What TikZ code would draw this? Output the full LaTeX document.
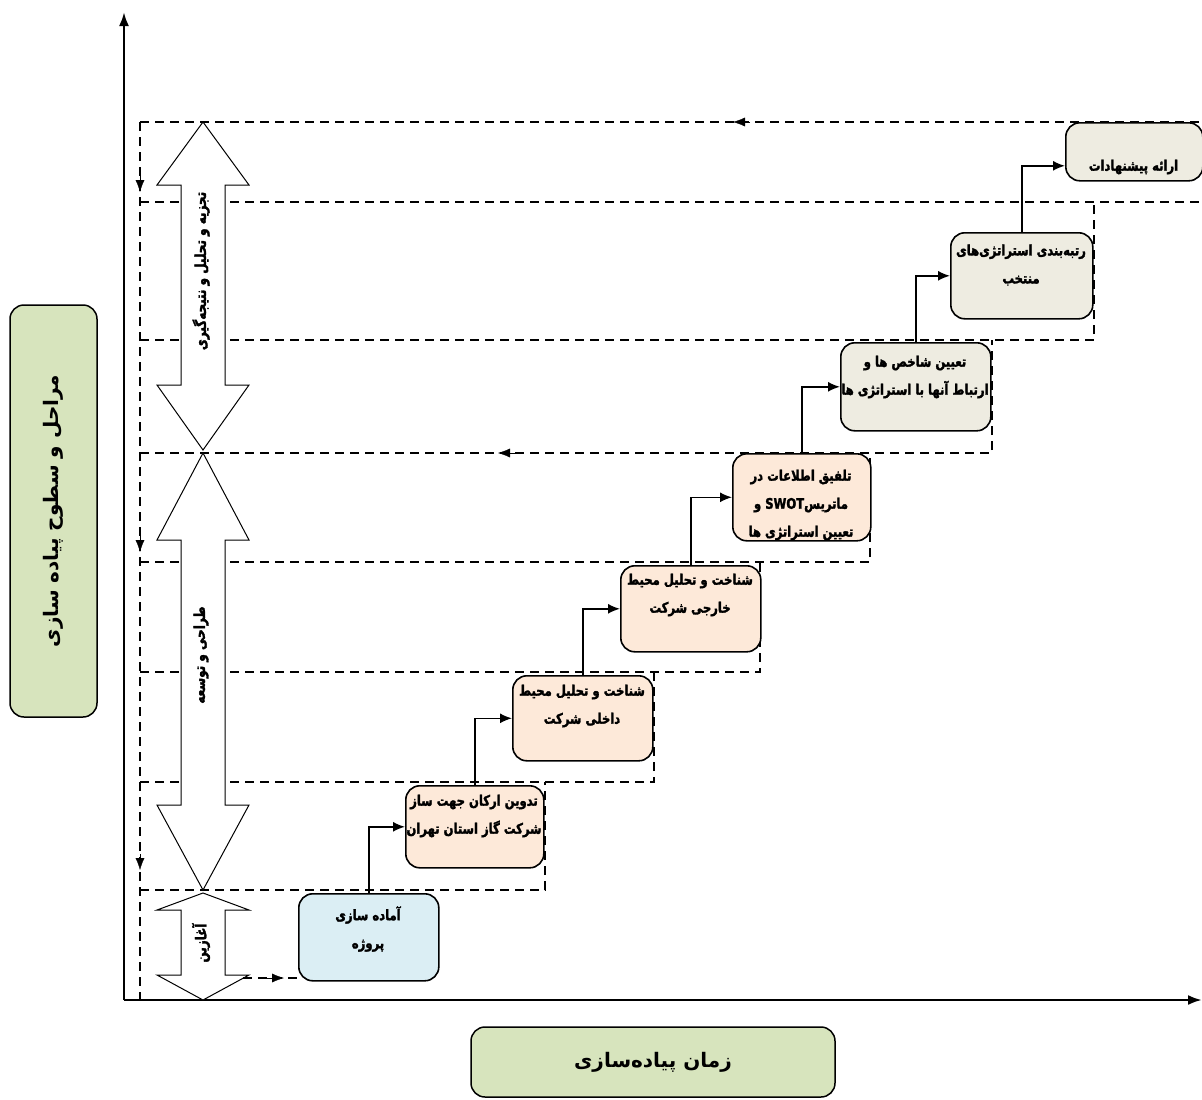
\documentclass[tikz,border=0pt]{standalone}
\usepackage{fontspec}
\usetikzlibrary{arrows.meta}
\newfontfamily\fa[Script=Arabic,FakeStretch=0.8,BoldFeatures={FakeBold=2}]{DejaVu Sans}
\newfontfamily\fb[Script=Arabic]{DejaVu Sans}
\TeXXeTstate=1
\newcommand{\rl}[1]{\beginR#1\endR}
\definecolor{grn}{HTML}{D7E4BD}
\definecolor{blu}{HTML}{DBEEF4}
\definecolor{pch}{HTML}{FDE9D9}
\definecolor{gry}{HTML}{EEECE1}

\begin{document}
\begin{tikzpicture}[x=1pt,y=-1pt,>=Latex,
 box/.style={draw,line width=1.6pt,rounded corners=14pt,anchor=north west,inner sep=0pt},
 txt/.style={align=center,font=\fa\bfseries\fontsize{14.5}{28}\selectfont},
 ph/.style={font=\fa\bfseries\fontsize{15}{18}\selectfont},
 big/.style={draw,line width=1.5pt,rounded corners=14pt,fill=grn,font=\fb\bfseries\fontsize{20}{24}\selectfont},
 dsh/.style={line width=1.4pt,dash pattern=on 9pt off 6pt},
 stp/.style={line width=1.6pt,-{Latex[length=12pt,width=10pt]}},
 tip/.style={-{Latex[length=12pt,width=9pt]}}]
\useasboundingbox (0,0) rectangle (1202,1100);
% dashed bands
\foreach \lo/\rx/\hi in {890/545/782,782/654/672,672/760/562,562/870/453,453/992/340,340/1094/202}
 \draw[dsh] (140,\lo) -| (\rx,\hi);
\draw[dsh] (140,202) -- (1202,202);
\draw[dsh] (140,122) -- (1202,122);
\draw[dsh] (140,122) -- (140,1000);
\draw[tip] (750,122) -- (733,122);
\draw[tip] (515,453) -- (498,453);
\foreach \y in {192,552,870} \draw[tip] (140,\y-16) -- (140,\y);
% axes
\draw[line width=2.5pt,-{Latex[length=14pt,width=10pt]}] (124,1000) -- (124,12);
\draw[line width=2.5pt,-{Latex[length=14pt,width=10pt]}] (124,1000) -- (1202,1000);
% phases
\foreach \T/\A/\B/\E in {122/185/385/450,453/540/805/890,893/910/975/1000}
 \draw[line width=1pt,fill=white] (203,\T) -- (249,\A) -- (225,\A) -- (225,\B) -- (249,\B) -- (203,\E)
  -- (157,\B) -- (181,\B) -- (181,\A) -- (157,\A) -- cycle;
\node[ph,rotate=90] (p1) at (201,271) {\rl{تجزیه و تحلیل و نتیجه‌گیری}};
\node[ph,rotate=90] (p2) at (201,655) {\rl{طراحی و توسعه}};
\node[ph,rotate=90] (p3) at (201,943) {\rl{آغازین}};
% steps
\foreach \n/\x/\y/\w/\h/\col/\ty/\txt in {
 b1/298/893/140/87/blu/929/{\rl{آماده سازی}\\\rl{پروژه}},
 b2/405/785/138/82/pch/816/{\rl{تدوین ارکان جهت ساز}\\\rl{شرکت گاز استان تهران}},
 b3/512/675/140/85/pch/706/{\rl{شناخت و تحلیل محیط}\\\rl{داخلی شرکت}},
 b4/620/565/140/86/pch/595/{\rl{شناخت و تحلیل محیط}\\\rl{خارجی شرکت}},
 b5/732/453/138/87/pch/505/{\rl{تلفیق اطلاعات در}\\\rl{و} SWOT\rl{ماتریس}\\\rl{تعیین  استراتژی ها}},
 b6/840/342/150/88/gry/377/{\rl{تعیین شاخص ها  و}\\\rl{ارتباط آنها با استراتژی ها}},
 b7/950/232/142/86/gry/265/{\rl{رتبه‌بندی استراتژی‌های}\\\rl{منتخب}},
 b8/1065/122/137/58/gry/167/{\rl{ارائه پیشنهادات}}}
{\node[box,fill=\col,minimum width=\w pt,minimum height=\h pt] (\n) at (\x,\y) {};
 \node[txt] (t\n) at (\x+\w/2,\ty) {\txt};}
\foreach \i/\j in {b1/b2,b2/b3,b3/b4,b4/b5,b5/b6,b6/b7} \draw[stp] (\i.north) |- (\j.west);
\draw[stp] (b7.north) |- ([yshift=-14pt]b8.west);
\coordinate (s0) at (243,978);
\draw[dsh] (s0) -- (b1.west |- s0);
\draw[tip] (266,978) -- (284,978);
% labels
\node[big,rotate=90,minimum width=412pt,minimum height=87pt] (lvl) at (53.5,511) {\rl{مراحل و سطوح  پیاده سازی}};
\node[big,minimum width=364pt,minimum height=70pt] (tme) at (653,1062) {\rl{زمان پیاده‌سازی}};
\end{tikzpicture}
\end{document}
